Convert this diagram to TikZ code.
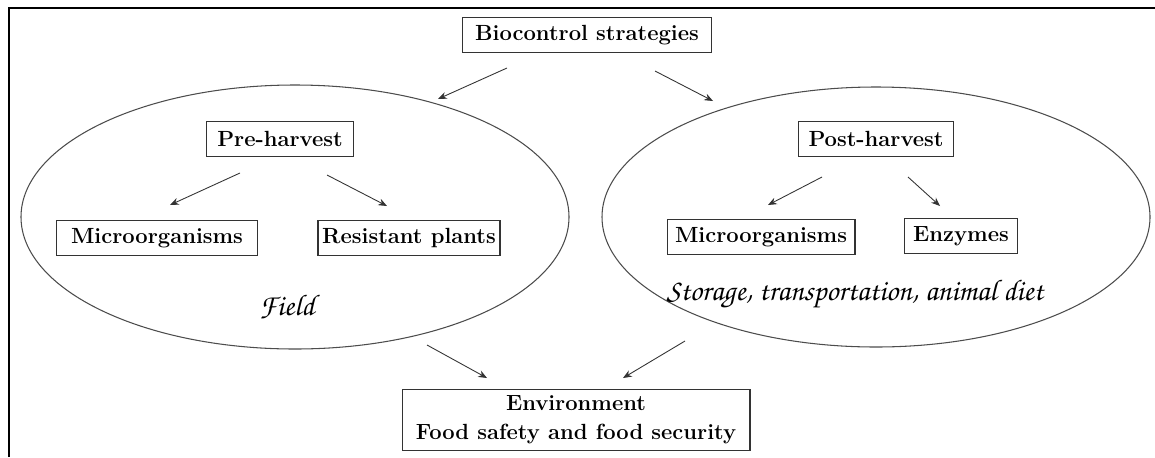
\documentclass[tikz,border=0pt]{standalone}
\usepackage[T1,TU]{fontenc}
\tikzstyle{box}=[draw=black!80,line width=0.6pt,font=\fontsize{12.5}{16.5}\selectfont\bfseries,inner sep=2pt,minimum height=0.7cm,align=center]
\tikzstyle{hand}=[font=\fontencoding{T1}\fontfamily{pzc}\fontseries{mb}\fontshape{it}\fontsize{17}{19}\selectfont]
\tikzstyle{edge}=[draw,black!80,line width=0.5pt,-{Stealth[length=5pt,width=4pt]}]
\tikzstyle{oval}=[draw=black!70,line width=0.6pt]
\usetikzlibrary{arrows.meta}

\begin{document}
\begin{tikzpicture}[x=0.02cm,y=-0.02cm]
\useasboundingbox (0,0) rectangle (1155,457);
\draw[line width=1.4pt] (9,457) -- (9,8) -- (1155,8);

\node[box,minimum width=4.98cm] (1) at (587,35) {Biocontrol strategies};

% the two fields
\path[oval] (295,217) ellipse [x radius=274, y radius=132];
\path[oval] (876,217) ellipse [x radius=274, y radius=130];

\node[box,minimum width=2.94cm] (2) at (280,139) {Pre-harvest};
\node[box,minimum width=3.10cm] (3) at (876,139) {Post-harvest};
\node[box,minimum width=4.02cm] (4) at (157,238) {Microorganisms};
\node[box,minimum width=3.64cm] (5) at (409,238) {Resistant plants};
\node[box,minimum width=3.76cm] (6) at (761,237) {Microorganisms};
\node[box,minimum width=2.26cm] (7) at (961,236) {Enzymes};
\node[box,minimum width=6.96cm,minimum height=1.22cm] (8) at (576,420) {Environment\\Food safety and food security};

\node[hand] (9) at (287,307) {Field};
\node[hand] (10) at (855,294) {Storage, transportation, animal diet};

\coordinate (a1) at (507,68);  \coordinate (b1) at (438,99);
\coordinate (a2) at (655,71);  \coordinate (b2) at (713,101);
\coordinate (a3) at (240,173); \coordinate (b3) at (170,205);
\coordinate (a4) at (327,175); \coordinate (b4) at (387,206);
\coordinate (a5) at (822,177); \coordinate (b5) at (768,205);
\coordinate (a6) at (908,177); \coordinate (b6) at (940,206);
\coordinate (a7) at (427,345); \coordinate (b7) at (487,378);
\coordinate (a8) at (685,341); \coordinate (b8) at (623,378);

\path[edge] (a1) -- (b1);
\path[edge] (a2) -- (b2);
\path[edge] (a3) -- (b3);
\path[edge] (a4) -- (b4);
\path[edge] (a5) -- (b5);
\path[edge] (a6) -- (b6);
\path[edge] (a7) -- (b7);
\path[edge] (a8) -- (b8);
\end{tikzpicture}
\end{document}
